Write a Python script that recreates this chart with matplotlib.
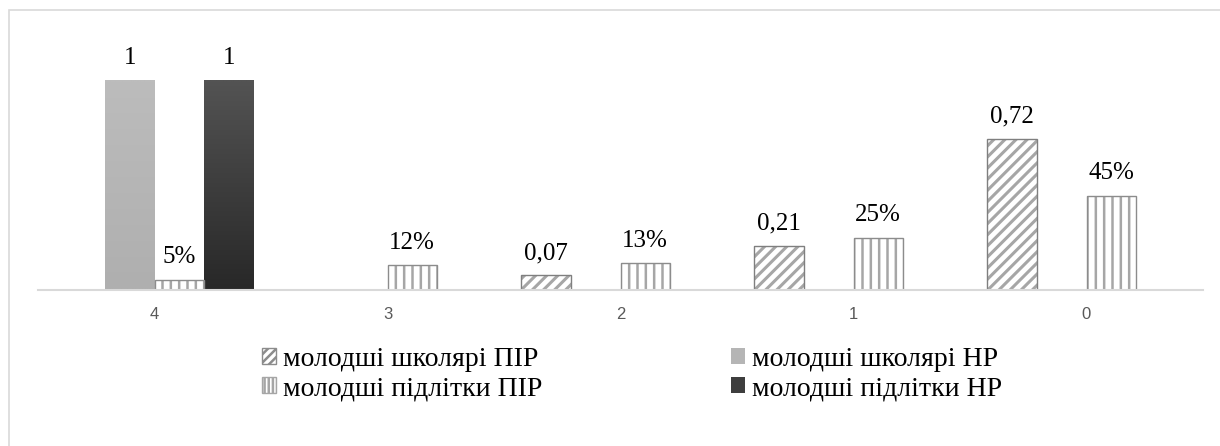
import numpy as np
import matplotlib
matplotlib.use("Agg")
import matplotlib.pyplot as plt
import matplotlib.patches as patches

# дані, зчитані з діаграми
categories = ["4", "3", "2", "1", "0"]
shk_pir = [np.nan, np.nan, 0.07, 0.21, 0.72]     # молодші школярі ПІР
shk_nr = [1, np.nan, np.nan, np.nan, np.nan]     # молодші школярі НР
pidl_pir = [0.05, 0.12, 0.13, 0.25, 0.45]        # молодші підлітки ПІР
pidl_nr = [1, np.nan, np.nan, np.nan, np.nan]    # молодші підлітки НР
series_labels = ["молодші школярі ПІР", "молодші школярі НР",
                 "молодші підлітки ПІР", "молодші підлітки НР"]

SERIF = ["Liberation Serif", "DejaVu Serif"]
SANS = ["Liberation Sans", "DejaVu Sans"]
HATCH_GRAY = "#a6a6a6"

plt.rcParams["font.family"] = SERIF

fig = plt.figure(figsize=(12.2, 4.46), dpi=100)
fig.patches.append(patches.Rectangle((9 / 1220, -0.1), 1.2, 1.1 - 10 / 446,
                                     transform=fig.transFigure, fill=False,
                                     edgecolor="#d9d9d9", linewidth=1.2))
ax = fig.add_axes([38 / 1220, 1 - 290 / 446, 1165 / 1220, 252 / 446])

x = np.arange(len(categories))
w = 0.2125


def gradient_bars(bars, top_color, bottom_color):
    top = np.array(matplotlib.colors.to_rgb(top_color))
    bot = np.array(matplotlib.colors.to_rgb(bottom_color))
    t = np.linspace(0, 1, 64)[:, None]
    img = (top * (1 - t) + bot * t)[:, None, :]
    for b in bars:
        h = b.get_height()
        if not np.isfinite(h) or h == 0:
            continue
        im = ax.imshow(img, extent=[b.get_x(), b.get_x() + b.get_width(), 0, h],
                       aspect="auto", origin="upper", zorder=2, interpolation="bilinear")
        im.set_clip_path(b)


# молодші школярі ПІР — діагональне штрихування
plt.rcParams["hatch.linewidth"] = 2.2
b1 = ax.bar(x - 1.5 * w, shk_pir, w, facecolor="white", edgecolor=HATCH_GRAY,
            hatch="///", linewidth=0, zorder=2)
ax.bar(x - 1.5 * w, shk_pir, w, fill=False, edgecolor="#7f7f7f", linewidth=1, zorder=3)

# молодші школярі НР — світлий градієнт
b2 = ax.bar(x - 0.5 * w, shk_nr, w, color="#b5b5b5", linewidth=0, zorder=1)
gradient_bars(b2, "#bcbcbc", "#afafaf")

# молодші підлітки ПІР — вертикальне штрихування
plt.rcParams["hatch.linewidth"] = 1.8
b3 = ax.bar(x + 0.5 * w, pidl_pir, w, facecolor="white", edgecolor=HATCH_GRAY,
            hatch="||", linewidth=0, zorder=2)
ax.bar(x + 0.5 * w, pidl_pir, w, fill=False, edgecolor="#8c8c8c", linewidth=1, zorder=3)

# молодші підлітки НР — темний градієнт
b4 = ax.bar(x + 1.5 * w, pidl_nr, w, color="#3e3e3e", linewidth=0, zorder=1)
gradient_bars(b4, "#535353", "#282828")


def fmt_dec(v):
    return f"{v:g}".replace(".", ",")


def fmt_pct(v):
    return f"{round(v * 100)}%"


for bars, vals, fmt in [(b1, shk_pir, fmt_dec), (b2, shk_nr, fmt_dec),
                        (b3, pidl_pir, fmt_pct), (b4, pidl_nr, fmt_dec)]:
    for b, v in zip(bars, vals):
        if np.isfinite(v):
            ax.annotate(fmt(v), (b.get_x() + b.get_width() / 2, v),
                        xytext=(0, 8), textcoords="offset points",
                        ha="center", va="bottom", fontsize=18, family=SERIF,
                        color="black")

ax.set_xlim(-0.5, len(categories) - 0.5)
ax.set_ylim(0, 1.2)
ax.set_xticks(x)
ax.set_xticklabels(categories, family=SANS, fontsize=12, color="#595959")
ax.tick_params(axis="x", length=0, pad=12)
ax.set_yticks([])
for s in ["top", "right", "left"]:
    ax.spines[s].set_visible(False)
ax.spines["bottom"].set_color("#d9d9d9")
ax.spines["bottom"].set_linewidth(1.5)
ax.spines["bottom"].set_zorder(4)

handles = [
    patches.Patch(facecolor="white", edgecolor="#8c8c8c", hatch="////", label=series_labels[0]),
    patches.Patch(facecolor="#b5b5b5", edgecolor="none", label=series_labels[1]),
    patches.Patch(facecolor="white", edgecolor="#a6a6a6", hatch="||||", label=series_labels[2]),
    patches.Patch(facecolor="#3e3e3e", edgecolor="none", label=series_labels[3]),
]
# порядок у легенді: по рядках
order = [0, 2, 1, 3]
leg = fig.legend([handles[i] for i in order], [series_labels[i] for i in order],
                 ncol=2, loc="upper left", bbox_to_anchor=(262 / 1220, 1 - 347 / 446),
                 frameon=False, prop={"family": SERIF, "size": 20},
                 handlelength=0.5, handleheight=0.5, handletextpad=0.25,
                 labelspacing=0.15, columnspacing=6.8, borderaxespad=0, borderpad=0)

fig.savefig("out.png", dpi=100)
